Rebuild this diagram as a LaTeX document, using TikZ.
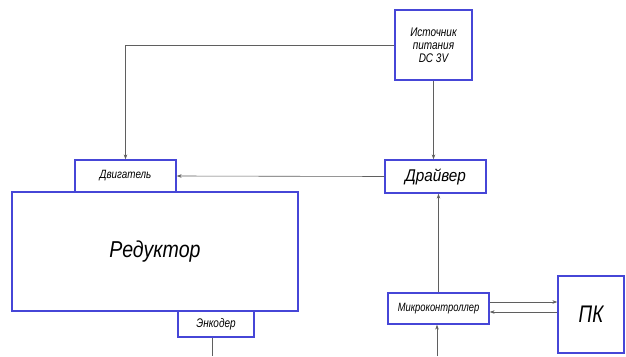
\documentclass[tikz,border=0pt]{standalone}
\usepackage{fontspec}
\setmainfont{Liberation Sans}
\usetikzlibrary{arrows.meta}
\definecolor{boxblue}{RGB}{70,70,215}
\definecolor{linegray}{RGB}{95,95,95}
\tikzset{
  blk/.style={draw=boxblue, line width=1.3pt, fill=white, inner sep=0pt, font=\itshape},
  conn/.style={draw=linegray, line width=0.6pt},
  arr/.style={conn, -{Stealth[length=5pt,width=3.5pt]}}
}
\newcommand{\nar}[2]{\scalebox{#1}[1]{#2}}
\begin{document}
\begin{tikzpicture}[x=1pt,y=-1pt]
\useasboundingbox[fill=white] (0,0) rectangle (626,356);
% boxes (pixel coordinates)
\node[blk, minimum width=77pt, minimum height=70pt, align=center, font=\itshape\fontsize{12.5}{13}\selectfont] (pwr) at (433.5,45) {\nar{0.8}{Источник}\\\nar{0.8}{питания}\\\nar{0.8}{DC 3V}};
\node[blk, minimum width=101pt, minimum height=32pt, font=\itshape\fontsize{12}{14}\selectfont] (dvig) at (125.5,176) {\nar{0.82}{Двигатель}};
\node[blk, minimum width=101pt, minimum height=33pt, font=\itshape\fontsize{17}{19}\selectfont] (drv) at (435.5,176.5) {\nar{0.9}{Драйвер}};
\node[blk, minimum width=286pt, minimum height=119pt, font=\itshape\fontsize{23}{26}\selectfont] (red) at (155,251.5) {\nar{0.85}{Редуктор}};
\node[blk, minimum width=76pt, minimum height=26pt, font=\itshape\fontsize{12.5}{14}\selectfont] (enc) at (216,324) {\nar{0.8}{Энкодер}};
\node[blk, minimum width=101pt, minimum height=31pt, font=\itshape\fontsize{12}{14}\selectfont] (mcu) at (438.5,308.5) {\nar{0.78}{Микроконтроллер}};
\node[blk, minimum width=66pt, minimum height=77pt, font=\itshape\fontsize{24}{26}\selectfont] (pc) at (591,314.5) {\nar{0.78}{ПК}};
% free ends
\coordinate (encEnd) at (212,356);
\coordinate (mcuIn) at (437,356);
% connectors
\draw[arr] (pwr.west) -| (dvig.north);
\draw[arr] (pwr.south) -- (pwr.south |- drv.north);
\draw[arr] (drv.west) -- (dvig.east);
\draw[arr] (mcu.north) -- (mcu.north |- drv.south);
\draw[arr] (mcuIn) -- (mcuIn |- mcu.south);
\draw[conn] (encEnd |- enc.south) -- (encEnd);
\draw[arr] ([yshift=6.5pt]mcu.east) -- ([yshift=6.5pt]mcu.east -| pc.west);
\draw[arr] ([yshift=-3.5pt]mcu.east -| pc.west) -- ([yshift=-3.5pt]mcu.east);
\end{tikzpicture}
\end{document}
